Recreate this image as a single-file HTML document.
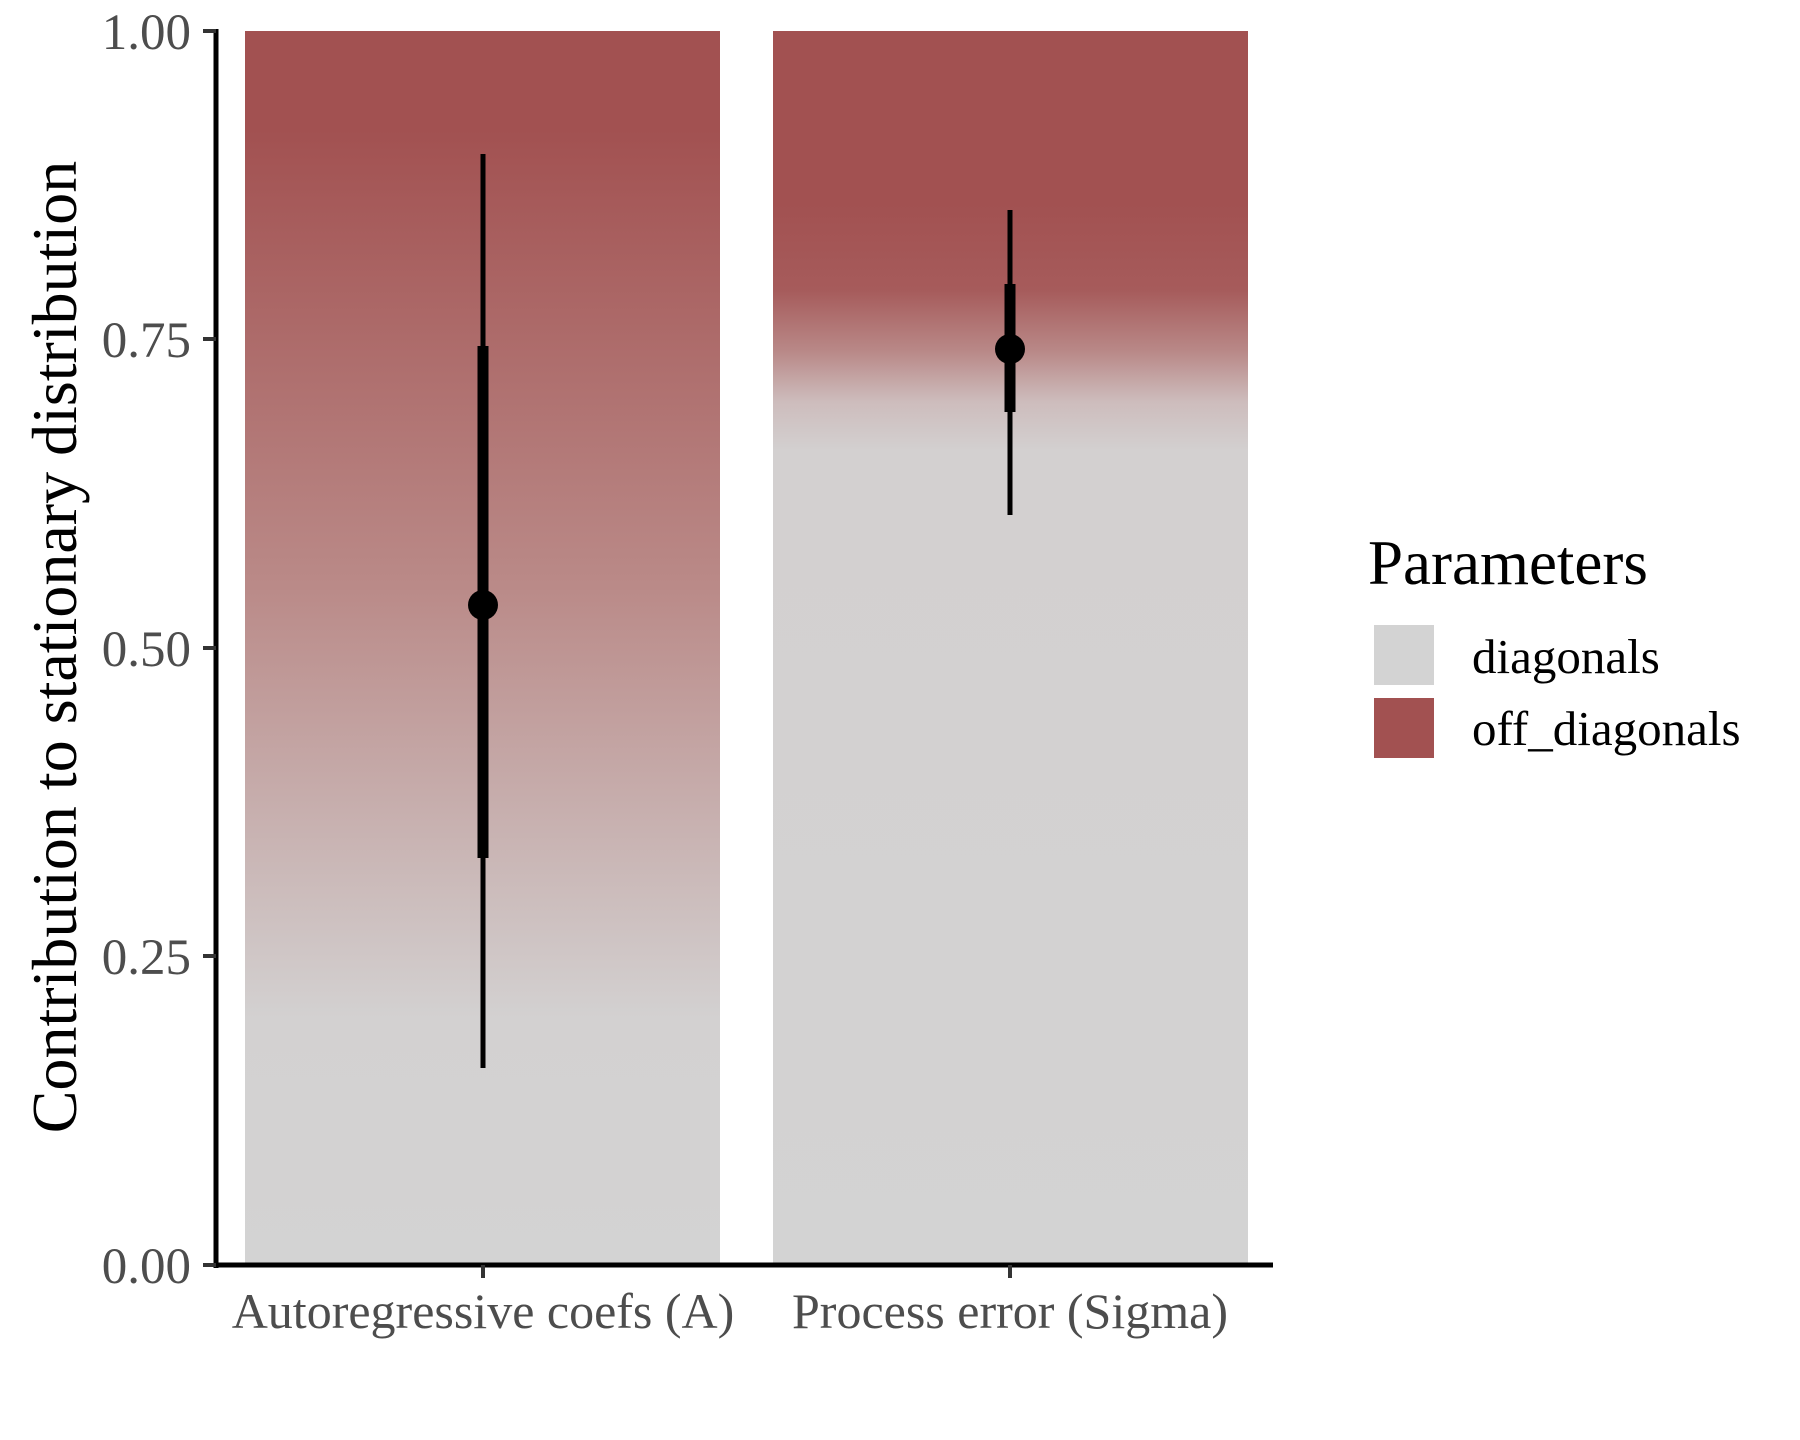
<!DOCTYPE html>
<html><head><style>body{margin:0;background:#fff}svg{display:block}</style></head><body>
<svg width="1800" height="1440" viewBox="0 0 1800 1440" xmlns="http://www.w3.org/2000/svg" font-family="'Liberation Serif', serif">
<defs>
<linearGradient id="gA" x1="0" y1="0" x2="0" y2="1">
<stop offset="0" stop-color="#a25151"/>
<stop offset="0.08" stop-color="#a25151"/>
<stop offset="0.45" stop-color="#ba8a88"/>
<stop offset="0.8" stop-color="#d3d1d1"/>
<stop offset="1" stop-color="#d3d3d3"/>
</linearGradient>
<linearGradient id="gS" x1="0" y1="0" x2="0" y2="1">
<stop offset="0" stop-color="#a25151"/>
<stop offset="0.14" stop-color="#a25151"/>
<stop offset="0.21" stop-color="#a65b5b"/>
<stop offset="0.26" stop-color="#b98988"/>
<stop offset="0.30" stop-color="#cdbcbc"/>
<stop offset="0.34" stop-color="#d3d0d0"/>
<stop offset="1" stop-color="#d3d3d3"/>
</linearGradient>
</defs>
<rect x="245" y="31" width="475" height="1234" fill="url(#gA)"/>
<rect x="773" y="31" width="475" height="1234" fill="url(#gS)"/>
<line x1="483" y1="154" x2="483" y2="1068" stroke="#000" stroke-width="5"/>
<line x1="483" y1="346" x2="483" y2="858" stroke="#000" stroke-width="11"/>
<circle cx="483" cy="605" r="15" fill="#000"/>
<line x1="1010" y1="210" x2="1010" y2="515" stroke="#000" stroke-width="5"/>
<line x1="1010" y1="284" x2="1010" y2="412" stroke="#000" stroke-width="11"/>
<circle cx="1010" cy="349" r="15" fill="#000"/>
<line x1="216" y1="29" x2="216" y2="1268" stroke="#000" stroke-width="5"/>
<line x1="214" y1="1265" x2="1273" y2="1265" stroke="#000" stroke-width="5"/>
<g stroke="#333" stroke-width="4">
<line x1="203" y1="31" x2="216" y2="31"/>
<line x1="203" y1="339" x2="216" y2="339"/>
<line x1="203" y1="648" x2="216" y2="648"/>
<line x1="203" y1="956" x2="216" y2="956"/>
<line x1="203" y1="1265" x2="216" y2="1265"/>
<line x1="483" y1="1265" x2="483" y2="1278"/>
<line x1="1010" y1="1265" x2="1010" y2="1278"/>
</g>
<g fill="#4d4d4d" font-size="51" text-anchor="end">
<text x="191" y="49">1.00</text>
<text x="191" y="357">0.75</text>
<text x="191" y="666">0.50</text>
<text x="191" y="974">0.25</text>
<text x="191" y="1283">0.00</text>
</g>
<g fill="#4d4d4d" font-size="50" text-anchor="middle">
<text x="483" y="1328">Autoregressive coefs (A)</text>
<text x="1010" y="1328">Process error (Sigma)</text>
</g>
<text transform="translate(76,647) rotate(-90)" text-anchor="middle" font-size="64" fill="#000">Contribution to stationary distribution</text>
<text x="1368" y="584" font-size="63" fill="#000">Parameters</text>
<rect x="1374" y="625" width="60" height="60" fill="#d3d3d3"/>
<rect x="1374" y="698" width="60" height="60" fill="#a25151"/>
<text x="1472" y="673" font-size="49" fill="#000">diagonals</text>
<text x="1472" y="745" font-size="49" fill="#000">off_diagonals</text>
</svg>
</body></html>
